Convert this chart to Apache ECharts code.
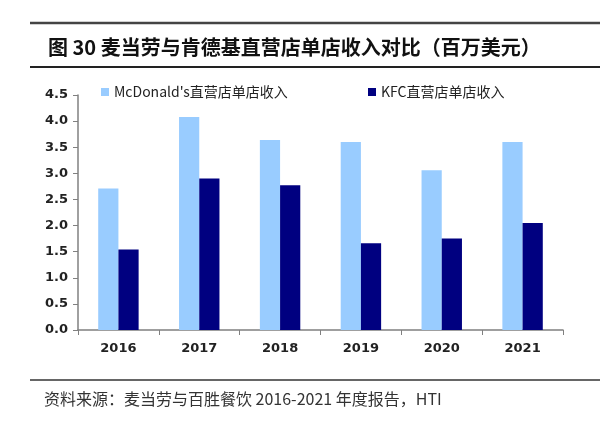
<!DOCTYPE html>
<html>
<head>
<meta charset="utf-8">
<script src="https://cdn.jsdelivr.net/npm/echarts@6/dist/echarts.min.js"></script>
<style>
  html, body { margin: 0; padding: 0; background: #fff; }
  #main { width: 600px; height: 424px; }
</style>
</head>
<body>
<div id="main"></div>
<script>
// 年份
var years = ['2016', '2017', '2018', '2019', '2020', '2021'];
// 直营店单店收入（百万美元）
var mcdRevenue = [2.71, 4.08, 3.64, 3.60, 3.06, 3.60];
var kfcRevenue = [1.54, 2.90, 2.77, 1.66, 1.75, 2.05];
var mcdName = "McDonald's直营店单店收入";
var kfcName = 'KFC直营店单店收入';

var chart = echarts.init(document.getElementById('main'));
var axisFont = { color: '#222', fontSize: 13, fontWeight: 'bold', fontFamily: 'DejaVu Sans' };

chart.setOption({
  animation: false,
  title: {
    text: '图 30 麦当劳与肯德基直营店单店收入对比（百万美元）',
    left: 43,
    top: 32,
    textStyle: { fontSize: 20, fontWeight: 'bold', color: '#111', fontFamily: 'Noto Sans CJK SC' }
  },
  legend: [{
    data: [mcdName],
    left: 96,
    top: 80,
    itemWidth: 8,
    itemHeight: 8,
    icon: 'rect',
    itemGap: 4,
    textStyle: { fontSize: 14, color: '#222', fontFamily: 'Noto Sans CJK SC' }
  }, {
    data: [kfcName],
    left: 363,
    top: 80,
    itemWidth: 8,
    itemHeight: 8,
    icon: 'rect',
    textStyle: { fontSize: 14, color: '#222', fontFamily: 'Noto Sans CJK SC' }
  }],
  grid: { left: 78, right: 37, top: 95, bottom: 94 },
  xAxis: {
    type: 'category',
    data: years,
    axisLine: { lineStyle: { color: '#808080', width: 1.5 } },
    axisTick: { show: true, length: 5, lineStyle: { color: '#808080' } },
    axisLabel: Object.assign({ margin: 12 }, axisFont)
  },
  yAxis: {
    type: 'value',
    min: 0,
    max: 4.5,
    interval: 0.5,
    splitLine: { show: false },
    axisLine: { show: true, lineStyle: { color: '#808080', width: 1.5 } },
    axisTick: { show: true, length: 5, lineStyle: { color: '#808080' } },
    axisLabel: Object.assign({
      margin: 10,
      formatter: function (v) { return v.toFixed(1); }
    }, axisFont)
  },
  series: [{
    name: mcdName,
    type: 'bar',
    data: mcdRevenue,
    barGap: '0%',
    barCategoryGap: '50%',
    itemStyle: { color: '#99CCFF' }
  }, {
    name: kfcName,
    type: 'bar',
    data: kfcRevenue,
    itemStyle: { color: '#000080' }
  }],
  graphic: [
    { type: 'line', shape: { x1: 30, y1: 23, x2: 600, y2: 23 }, style: { stroke: '#444', lineWidth: 2.5 } },
    { type: 'line', shape: { x1: 30, y1: 67, x2: 600, y2: 67 }, style: { stroke: '#222', lineWidth: 2 } },
    { type: 'line', shape: { x1: 30, y1: 380, x2: 600, y2: 380 }, style: { stroke: '#333', lineWidth: 1.5 } },
    {
      type: 'text', left: 44, top: 391,
      style: { text: '资料来源：麦当劳与百胜餐饮 2016-2021 年度报告，HTI', fontSize: 16, fill: '#333', fontFamily: 'Noto Sans CJK SC' }
    }
  ]
});
</script>
</body>
</html>
